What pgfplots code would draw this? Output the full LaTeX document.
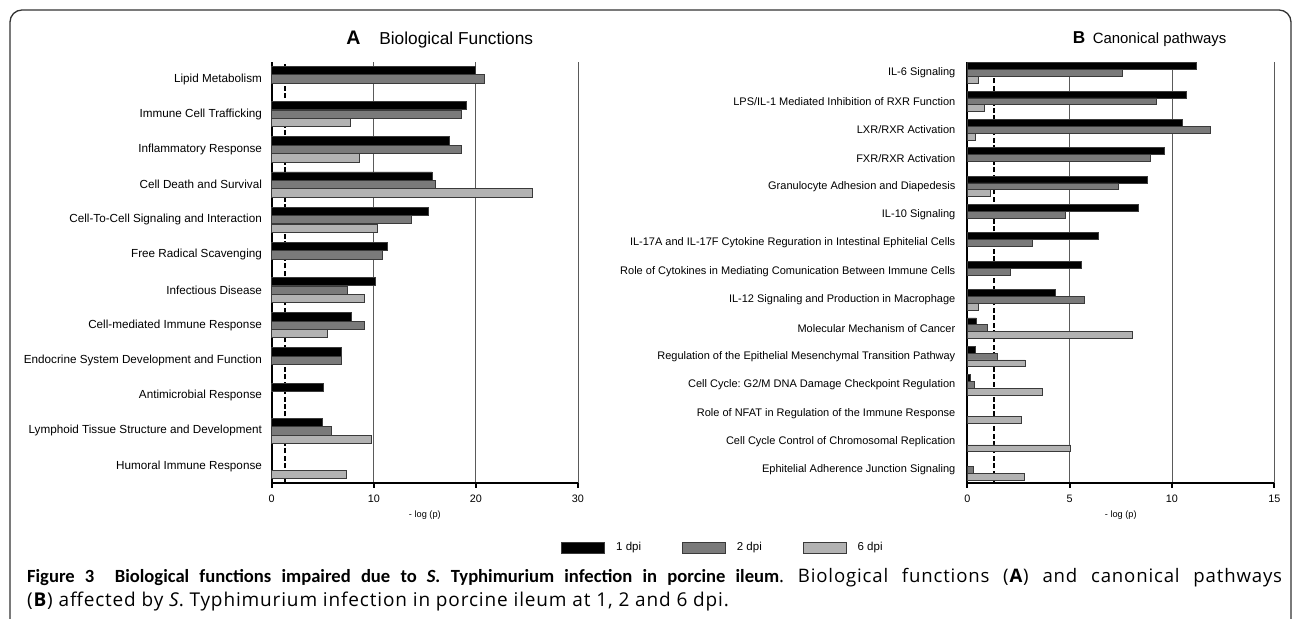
\documentclass[border=0pt]{standalone}
\usepackage{pgfplots}
\pgfplotsset{compat=1.18}
\usepackage{fontspec}
\setmainfont{Liberation Sans}
\newfontfamily\capfont[LetterSpace=4.5]{Open Sans}
\newfontfamily\boldcap{Carlito}
\definecolor{cB}{HTML}{7A7A7A}
\definecolor{cC}{HTML}{B2B2B2}
\definecolor{edge}{HTML}{3A3A3A}
\definecolor{gridc}{HTML}{5A5A5A}
\definecolor{framec}{HTML}{333333}

\pgfplotsset{
  panel/.style={
    scale only axis,
    axis lines*=left,
    axis line style={line width=1pt, black},
    xmajorgrids, grid style={gridc, line width=0.45pt},
    xtick pos=bottom, ytick pos=left, tick align=outside,
    major tick length=2.5pt,
    xtick style={line width=0.9pt, black},
    ytick style={draw=none},
    /pgf/number format/assume math mode=true,
    xticklabel style={font=\fontsize{5.4}{6}\selectfont, inner sep=1.5pt, yshift=-1.8pt},
    xlabel={- log (p)},
    xlabel style={font=\fontsize{4.6}{5}\selectfont, inner sep=1pt, yshift=-1.2pt},
    xmin=0, clip=false,
  },
  barA/.style={xbar, bar width=#1, bar shift=0.24, fill=black, draw=edge, line width=0.4pt,
    legend image code/.code={\draw[line width=0.4pt, draw=edge, fill=black] (0pt,-2.6pt) rectangle (21.5pt,2.6pt);}},
  barB/.style={xbar, bar width=#1, bar shift=0, fill=cB, draw=edge, line width=0.4pt,
    legend image code/.code={\draw[line width=0.4pt, draw=edge, fill=cB] (0pt,-2.6pt) rectangle (21.5pt,2.6pt);}},
  barC/.style={xbar, bar width=#1, bar shift=-0.24, fill=cC, draw=edge, line width=0.4pt,
    legend image code/.code={\draw[line width=0.4pt, draw=edge, fill=cC] (0pt,-2.6pt) rectangle (21.5pt,2.6pt);}},
}

\begin{document}
\frenchspacing
\begin{tikzpicture}[x=0.5pt,y=0.5pt]
% frame
\draw[line width=0.65pt, framec, rounded corners=6pt] (10,-30) -- (10,609) -- (1291,609) -- (1291,-30);

% titles
\node[anchor=base west, inner sep=0] at (346,574.5) {\fontsize{9.8}{11}\selectfont\bfseries A};
\node[anchor=base west, inner sep=0] at (378.9,574.5) {\fontsize{8.65}{10}\selectfont Biological Functions};
\node[anchor=base west, inner sep=0] at (1072.4,575.5) {\fontsize{8.6}{10}\selectfont\bfseries B};
\node[anchor=base west, inner sep=0] at (1092.4,575.5) {\fontsize{7.46}{9}\selectfont Canonical pathways};

% Panel A
\begin{axis}[panel,
  at={(135.85pt,68pt)}, anchor=south west,
  width=153.15pt, height=210.5pt,
  xmax=30, xtick={0,10,20,30},
  ymin=-0.483, ymax=11.483,
  ytick={0,...,11},
  yticklabels={Humoral Immune Response, Lymphoid Tissue Structure and Development, Antimicrobial Response, Endocrine System Development and Function, Cell-mediated Immune Response, Infectious Disease, Free Radical Scavenging, Cell-To-Cell Signaling and Interaction, Cell Death and Survival, Inflammatory Response, Immune Cell Trafficking, Lipid Metabolism},
  yticklabel style={font=\fontsize{5.85}{7}\selectfont, inner sep=0pt, xshift=-2.2pt},
  legend columns=3,
  legend style={at={(1.4766,-0.1544)}, anchor=center, draw=none, fill=none,
    font=\fontsize{5.75}{7}\selectfont,
    /tikz/every odd column/.append style={column sep=3.5pt},
    /tikz/every even column/.append style={column sep=18.5pt}},
]
\addplot[black, line width=0.6pt, dash pattern=on 2.5pt off 1.2pt, forget plot] coordinates {(1.3,-0.483) (1.3,11.483)};
\addplot[barA=0.235] coordinates {
(20.0,11) (19.1,10) (17.4,9) (15.7,8) (15.3,7) (11.3,6) (10.2,5) (7.8,4) (6.8,3) (5.1,2) (5.0,1)};
\addplot[barB=0.235] coordinates {
(20.8,11) (18.6,10) (18.6,9) (16.0,8) (13.7,7) (10.8,6) (7.4,5) (9.1,4) (6.8,3) (5.8,1)};
\addplot[barC=0.235] coordinates {
(7.7,10) (8.6,9) (25.5,8) (10.4,7) (9.1,5) (5.5,4) (9.8,1) (7.35,0)};
\addlegendentry{1 dpi}
\addlegendentry{2 dpi}
\addlegendentry{6 dpi}
\end{axis}

% Panel B
\begin{axis}[panel,
  at={(483.65pt,68pt)}, anchor=south west,
  width=153.5pt, height=210.5pt,
  xmax=15, xtick={0,5,10,15},
  ymin=-0.46, ymax=14.39,
  ytick={0,...,14},
  yticklabels={Ephitelial Adherence Junction Signaling, Cell Cycle Control of Chromosomal Replication, Role of NFAT in Regulation of the Immune Response, Cell Cycle: G2/M DNA Damage Checkpoint Regulation, Regulation of the Epithelial Mesenchymal Transition Pathway, Molecular Mechanism of Cancer, IL-12 Signaling and Production in Macrophage, Role of Cytokines in Mediating Comunication Between Immune Cells, IL-17A and IL-17F Cytokine Reguration in Intestinal Ephitelial Cells, IL-10 Signaling, Granulocyte Adhesion and Diapedesis, FXR/RXR Activation, LXR/RXR Activation, LPS/IL-1 Mediated Inhibition of RXR Function, IL-6 Signaling},
  yticklabel style={font=\fontsize{5.5}{7}\selectfont, inner sep=0pt, xshift=-3.3pt},
]
\addplot[black, line width=0.6pt, dash pattern=on 2.5pt off 1.2pt, forget plot] coordinates {(1.3,-0.46) (1.3,14.39)};
\addplot[barA=0.243] coordinates {
(11.18,14) (10.7,13) (10.5,12) (9.63,11) (8.78,10) (8.37,9) (6.42,8) (5.59,7) (4.31,6) (0.44,5) (0.4,4) (0.16,3)};
\addplot[barB=0.243] coordinates {
(7.6,14) (9.25,13) (11.9,12) (8.96,11) (7.36,10) (4.78,9) (3.17,8) (2.11,7) (5.73,6) (1.0,5) (1.49,4) (0.36,3) (0.28,0)};
\addplot[barC=0.243] coordinates {
(0.55,14) (0.85,13) (0.4,12) (1.14,10) (0.53,6) (8.09,5) (2.82,4) (3.66,3) (2.65,2) (5.06,1) (2.77,0)};
\end{axis}

% caption
\node[anchor=base west, inner sep=0] at (26.7,36.3) {\frenchspacing\makebox[627.5pt][s]{{\boldcap\fontsize{9.3}{11}\selectfont\bfseries Figure 3\ \ Biological functions impaired due to \textit{S.} Typhimurium infection in porcine ileum}{\capfont\fontsize{9.3}{11}\selectfont . Biological functions (\textbf{A}) and canonical pathways}}};
\node[anchor=base west, inner sep=0] at (26.7,12) {\frenchspacing\capfont\fontsize{9.5}{11}\selectfont (\textbf{B}) affected by \textit{S}. Typhimurium infection in porcine ileum at 1, 2 and 6 dpi.};

\pgfresetboundingbox
\path[use as bounding box] (0,0) rectangle (1292,619);
\end{tikzpicture}
\end{document}
